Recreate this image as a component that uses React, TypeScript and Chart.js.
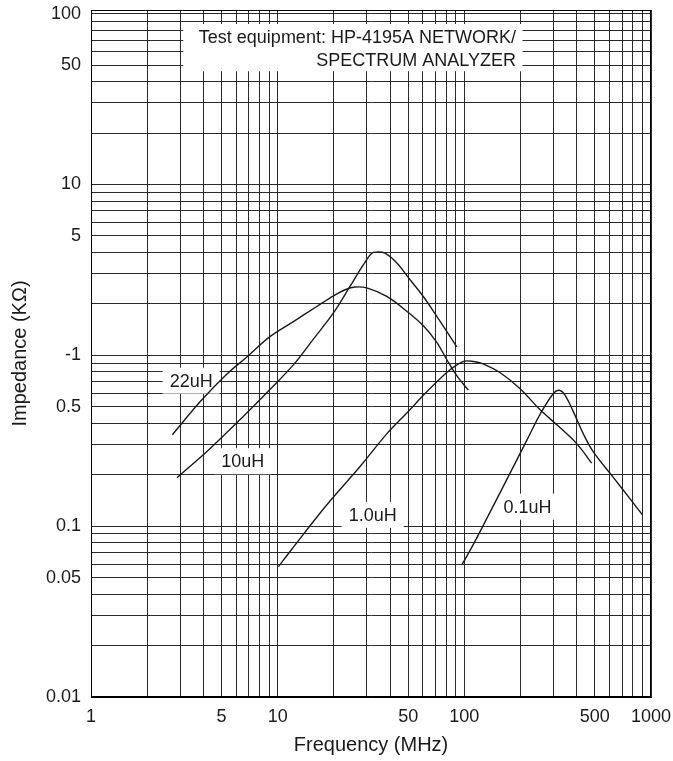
import React, { useEffect, useRef } from "react";
import { Chart, registerables } from "chart.js";

Chart.register(...registerables);

// ---- Data ----
const f22 = [2.73, 3.85, 5.35, 6.84, 9.12, 12.2, 16.2, 19.9, 23.0, 26.0, 30.0, 38.4, 49.2, 60.3, 71.2, 80.5, 91.1, 105];
const z22 = [0.343, 0.536, 0.777, 0.978, 1.29, 1.58, 1.93, 2.23, 2.42, 2.51, 2.48, 2.21, 1.81, 1.49, 1.19, 0.945, 0.76, 0.625];

const f10 = [2.89, 4.35, 6.56, 9.12, 12.2, 15.5, 19.9, 24.4, 28.8, 31.9, 34.0, 37.6, 43.5, 51.2, 60.3, 71.2, 80.5, 91.1];
const z10 = [0.192, 0.285, 0.44, 0.633, 0.885, 1.24, 1.77, 2.53, 3.39, 3.96, 4.02, 3.96, 3.47, 2.77, 2.21, 1.69, 1.38, 1.12];

const f1 = [10.1, 11.9, 18.3, 27.7, 38.4, 49.2, 62.9, 80.5, 90, 100, 112, 125, 155, 199, 254, 325, 400, 481];
const z1 = [0.058, 0.0733, 0.133, 0.224, 0.347, 0.46, 0.611, 0.793, 0.87, 0.925, 0.92, 0.895, 0.793, 0.638, 0.481, 0.378, 0.304, 0.234];

const f01 = [96.9, 107, 132, 169, 216, 254, 300, 323, 346, 383, 434, 490, 628, 771, 902];
const z01 = [0.0593, 0.0716, 0.111, 0.188, 0.318, 0.45, 0.598, 0.624, 0.585, 0.47, 0.347, 0.273, 0.193, 0.145, 0.116];

const seriesNames = ["22uH", "10uH", "1.0uH", "0.1uH"];

// curve label anchors (frequency, impedance)
const labelF = [3.44, 6.5, 32.3, 218];
const labelZ = [0.711, 0.24, 0.1165, 0.13];

// axis ticks
const xTickValues = [1, 5, 10, 50, 100, 500, 1000];
const xTickLabels = ["1", "5", "10", "50", "100", "500", "1000"];
const yTickValues = [100, 50, 10, 5, 1, 0.5, 0.1, 0.05, 0.01];
const yTickLabels = ["100", "50", "10", "5", "-1", "0.5", "0.1", "0.05", "0.01"];

const xMin = 1, xMax = 1000;
const yMin = 0.01, yMax = 105;

// grid (1..9 x 10^n)
const mant = [1, 2, 3, 4, 5, 6, 7, 8, 9];
const xGrid: number[] = [];
[1, 10, 100].forEach((d) => mant.forEach((m) => xGrid.push(+(m * d).toPrecision(6))));
xGrid.push(1000);
const yGrid: number[] = [];
[0.01, 0.1, 1, 10].forEach((d) => mant.forEach((m) => yGrid.push(+(m * d).toPrecision(6))));
yGrid.push(100);

// note box
const noteLines = ["Test equipment: HP-4195A NETWORK/", "SPECTRUM ANALYZER"];
const noteBoxF = [3.12, 205];
const noteBoxZ = [87, 46];
const noteRightF = 189;
const noteLineZ = [72, 53];

const FONT = '"Liberation Sans", Arial, Helvetica, sans-serif';
const INK = "#1a1a1a";

function labelFor(v: number, vals: number[], labels: string[]) {
  for (let i = 0; i < vals.length; i++) {
    if (Math.abs(v - vals[i]) / vals[i] < 1e-6) return labels[i];
  }
  return "";
}

const annotPlugin = {
  id: "annot",
  beforeDatasetsDraw(chart: any) {
    const { ctx, scales } = chart;
    const x = scales.x, y = scales.y;
    ctx.save();
    const l = x.getPixelForValue(noteBoxF[0]);
    const r = x.getPixelForValue(noteBoxF[1]);
    const t = y.getPixelForValue(noteBoxZ[0]);
    const b = y.getPixelForValue(noteBoxZ[1]);
    ctx.fillStyle = "#ffffff";
    ctx.fillRect(l, t, r - l, b - t);
    ctx.fillStyle = INK;
    ctx.font = `18px ${FONT}`;
    ctx.textAlign = "right";
    ctx.textBaseline = "middle";
    noteLines.forEach((s, i) => {
      ctx.fillText(s, x.getPixelForValue(noteRightF), y.getPixelForValue(noteLineZ[i]));
    });
    ctx.textAlign = "center";
    seriesNames.forEach((s, i) => {
      const cx = x.getPixelForValue(labelF[i]);
      const cy = y.getPixelForValue(labelZ[i]);
      const w = ctx.measureText(s).width;
      ctx.fillStyle = "#ffffff";
      ctx.fillRect(cx - w / 2 - 7, cy - 13, w + 14, 26);
      ctx.fillStyle = INK;
      ctx.fillText(s, cx, cy + 1);
    });
    ctx.restore();
  },
  afterDraw(chart: any) {
    const { ctx, chartArea } = chart;
    ctx.save();
    ctx.strokeStyle = "#000";
    ctx.lineWidth = 1;
    const l = Math.round(chartArea.left) + 0.5;
    const t = Math.round(chartArea.top) + 0.5;
    const r = Math.round(chartArea.right) - 0.5;
    const b = Math.round(chartArea.bottom) - 0.5;
    ctx.strokeRect(l, t, r - l, b - t);
    ctx.restore();
  },
};

function pts(f: number[], z: number[]) {
  return f.map((v, i) => ({ x: v, y: z[i] }));
}

function zeroPad(s: any) {
  s.paddingLeft = 0;
  s.paddingRight = 0;
  s.paddingTop = 0;
  s.paddingBottom = 0;
}

export default function App() {
  const ref = useRef<HTMLCanvasElement | null>(null);
  useEffect(() => {
    if (!ref.current) return;
    const series = [pts(f22, z22), pts(f10, z10), pts(f1, z1), pts(f01, z01)];
    const chart = new Chart(ref.current, {
      type: "line",
      data: {
        datasets: series.map((d, i) => ({
          label: seriesNames[i],
          data: d,
          borderColor: INK,
          borderWidth: 1.4,
          pointRadius: 0,
          fill: false,
          tension: 0.35,
        })),
      },
      options: {
        responsive: false,
        animation: false,
        layout: { padding: { left: 0, right: 22, top: 10, bottom: 0 } },
        plugins: { legend: { display: false }, tooltip: { enabled: false } },
        scales: {
          x: {
            type: "logarithmic",
            min: xMin,
            max: xMax,
            afterBuildTicks: (s: any) => {
              s.ticks = xGrid.map((v) => ({ value: v }));
            },
            afterFit: (s: any) => {
              s.height = 64;
              zeroPad(s);
            },
            grid: { color: "#2a2a2a", lineWidth: 1, drawTicks: false },
            border: { display: true, color: "#000", width: 1 },
            ticks: {
              autoSkip: false,
              maxRotation: 0,
              minRotation: 0,
              padding: 9,
              color: INK,
              font: { family: FONT, size: 18 },
              callback: (v: any) => labelFor(Number(v), xTickValues, xTickLabels),
            },
            title: {
              display: true,
              text: "Frequency (MHz)",
              color: INK,
              font: { family: FONT, size: 20 },
              padding: { top: 0, bottom: 4 },
            },
          },
          y: {
            type: "logarithmic",
            min: yMin,
            max: yMax,
            afterBuildTicks: (s: any) => {
              s.ticks = yGrid.map((v) => ({ value: v }));
            },
            afterFit: (s: any) => {
              s.width = 91;
              zeroPad(s);
            },
            grid: { color: "#2a2a2a", lineWidth: 1, drawTicks: false },
            border: { display: true, color: "#000", width: 1 },
            ticks: {
              autoSkip: false,
              padding: 10,
              color: INK,
              font: { family: FONT, size: 18 },
              callback: (v: any) => labelFor(Number(v), yTickValues, yTickLabels),
            },
            title: {
              display: true,
              text: "Impedance (KΩ)",
              color: INK,
              font: { family: FONT, size: 20 },
              padding: { top: 8, bottom: 0 },
            },
          },
        },
      },
      plugins: [annotPlugin],
    });
    return () => chart.destroy();
  }, []);
  return (
    <div style={{ position: "absolute", left: 0, top: 0, width: 673, height: 761, background: "#fff" }}>
      <canvas ref={ref} width={673} height={761} style={{ display: "block" }} />
    </div>
  );
}
